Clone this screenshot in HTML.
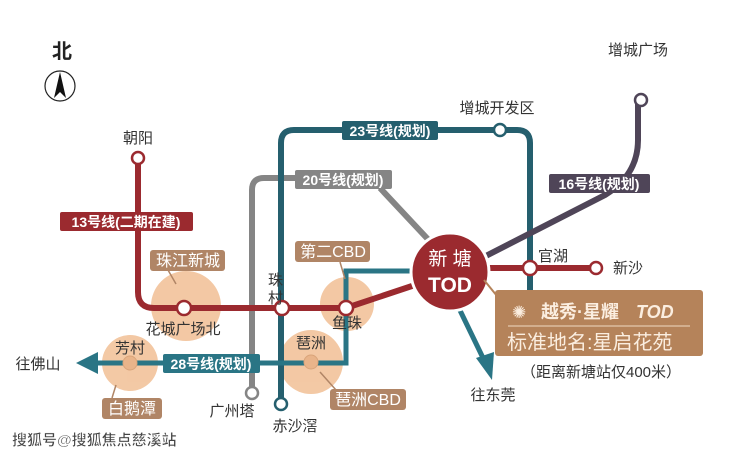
<!DOCTYPE html>
<html><head><meta charset="utf-8"><style>
html,body{margin:0;padding:0;background:#fff;}
svg{display:block;font-family:"Liberation Sans","Noto Sans CJK SC",sans-serif;}
</style></head><body>
<svg width="740" height="456" viewBox="0 0 740 456" xmlns="http://www.w3.org/2000/svg">
<rect width="740" height="456" fill="#fff"/>
<!-- north -->
<text x="62" y="58" font-size="20" font-weight="bold" text-anchor="middle" fill="#222">北</text>
<ellipse cx="60" cy="86" rx="15" ry="15" fill="none" stroke="#222" stroke-width="1.2"/>
<polygon points="60,72 54,98 60,92 66,98" fill="#111"/>
<!-- peach circles -->
<g fill="#f2c39b" opacity="0.9">
<circle cx="186" cy="306" r="35"/>
<circle cx="347" cy="304" r="27"/>
<circle cx="311" cy="362" r="32"/>
<circle cx="130" cy="363" r="28"/>
</g>
<!-- 20 gray -->
<path d="M252,392 V190 Q252,178 264,178 H300 M380,188 L438,250" fill="none" stroke="#858585" stroke-width="6"/>
<!-- 23 teal -->
<path d="M281,405 V143 Q281,130 294,130 H517 Q530,130 530,143 V300" fill="none" stroke="#255f6e" stroke-width="6"/>
<!-- 28 teal -->
<path d="M95,363 H346 V271 H420" fill="none" stroke="#2a7585" stroke-width="5"/>
<polygon points="76,363 98,352 98,374" fill="#2a7585"/>
<!-- 16 purple -->
<path d="M638,102 V140 Q638,175 605,195 L478,260" fill="none" stroke="#4f4558" stroke-width="6"/>
<!-- arrow to 东莞 -->
<path d="M455,300 L484,360" stroke="#2a7585" stroke-width="5" fill="none"/>
<polygon points="492,380 476,358 494,352" fill="#2a7585"/>
<!-- 13 red -->
<path d="M138,160 V292 Q138,308 154,308 H346 L430,280 M470,268 H596" fill="none" stroke="#9b2a2f" stroke-width="6"/>
<!-- peach inner small circles -->
<circle cx="130" cy="363" r="7" fill="#e9b48a" stroke="#d9a47a"/>
<circle cx="311" cy="362" r="7" fill="#e9b48a" stroke="#d9a47a"/>
<!-- stations -->
<g fill="#fff" stroke="#9b2a2f" stroke-width="2.5">
<circle cx="138" cy="158" r="6"/>
<circle cx="184" cy="308" r="7"/>
<circle cx="282" cy="308" r="7"/>
<circle cx="346" cy="308" r="7"/>
<circle cx="530" cy="268" r="7"/>
<circle cx="596" cy="268" r="6"/>
</g>
<circle cx="500" cy="130" r="6" fill="#fff" stroke="#255f6e" stroke-width="2.5"/>
<circle cx="641" cy="100" r="6" fill="#fff" stroke="#4f4558" stroke-width="2.5"/>
<circle cx="252" cy="393" r="6" fill="#fff" stroke="#858585" stroke-width="2.5"/>
<circle cx="281" cy="404" r="6" fill="#fff" stroke="#255f6e" stroke-width="2.5"/>
<!-- TOD -->
<circle cx="450" cy="272" r="39" fill="#9b2a2f" stroke="#fff" stroke-width="3"/>
<text x="450" y="265" font-size="19" fill="#fff" text-anchor="middle">新 塘</text>
<text x="450" y="292" font-size="21" font-weight="bold" fill="#fff" text-anchor="middle">TOD</text>
<!-- line labels -->
<rect x="60" y="212" width="133" height="19" rx="2" fill="#9b2a2f"/>
<text x="126" y="227" font-size="14" font-weight="bold" fill="#fff" text-anchor="middle">13号线(二期在建)</text>
<rect x="342" y="121" width="96" height="19" rx="2" fill="#255f6e"/>
<text x="390" y="136" font-size="14" font-weight="bold" fill="#fff" text-anchor="middle">23号线(规划)</text>
<rect x="295" y="170" width="97" height="19" rx="2" fill="#858585"/>
<text x="343" y="185" font-size="14" font-weight="bold" fill="#fff" text-anchor="middle">20号线(规划)</text>
<rect x="549" y="174" width="101" height="19" rx="2" fill="#4f4558"/>
<text x="599" y="189" font-size="14" font-weight="bold" fill="#fff" text-anchor="middle">16号线(规划)</text>
<rect x="163" y="354" width="97" height="19" rx="2" fill="#2a7585"/>
<text x="211" y="369" font-size="14" font-weight="bold" fill="#fff" text-anchor="middle">28号线(规划)</text>
<!-- brown labels -->
<g fill="#b08566">
<rect x="150" y="250" width="75" height="21" rx="3"/>
<rect x="295" y="241" width="75" height="21" rx="3"/>
<rect x="330" y="389" width="76" height="21" rx="3"/>
<rect x="102" y="398" width="60" height="21" rx="3"/>
</g>
<path d="M168,270 L176,284 M340,262 L345,279 M320,372 L336,390 M116,385 L112,398" stroke="#b08566" stroke-width="1.5"/>
<g font-size="16" fill="#fff" text-anchor="middle">
<text x="188" y="266">珠江新城</text>
<text x="333" y="257">第二CBD</text>
<text x="368" y="405">琶洲CBD</text>
<text x="132" y="414">白鹅潭</text>
</g>
<!-- station names -->
<g font-size="15" fill="#333" text-anchor="middle">
<text x="138" y="143">朝阳</text>
<text x="497" y="113">增城开发区</text>
<text x="638" y="55">增城广场</text>
<text x="553" y="261" >官湖</text>
<text x="628" y="273">新沙</text>
<text x="183" y="334">花城广场北</text>
<text x="347" y="328">鱼珠</text>
<text x="130" y="353">芳村</text>
<text x="311" y="348">琶洲</text>
<text x="38" y="369">往佛山</text>
<text x="232" y="416">广州塔</text>
<text x="295" y="431">赤沙滘</text>
<text x="493" y="400">往东莞</text>
</g>
<text x="268" y="285" font-size="15" fill="#333">珠</text>
<text x="268" y="303" font-size="15" fill="#333">村</text>
<!-- promo box -->
<path d="M484,280 L497,296" stroke="#b5835a" stroke-width="2"/>
<rect x="495" y="290" width="208" height="66" rx="3" fill="#b5835a"/>
<text x="512" y="318" font-size="17" fill="#fbeee0">✺</text>
<text x="541" y="318" font-size="18" font-weight="bold" fill="#fbeee0">越秀·星耀</text>
<text x="636" y="318" font-size="18" font-weight="bold" font-style="italic" fill="#fbeee0">TOD</text>
<line x1="508" y1="326" x2="690" y2="326" stroke="#f0d9c2" stroke-width="1"/>
<text x="507" y="349" font-size="20" fill="#fbeee0">标准地名:星启花苑</text>
<text x="601" y="377" font-size="15" fill="#333" text-anchor="middle">（距离新塘站仅400米）</text>
<!-- watermark -->
<text x="12" y="445" font-size="15" font-weight="bold" fill="#444" stroke="#fff" stroke-width="0.5">搜狐号@搜狐焦点慈溪站</text>
</svg>
</body></html>
